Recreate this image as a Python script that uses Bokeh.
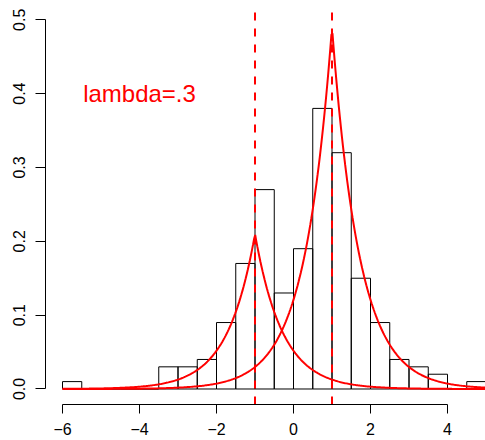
import numpy as np
from bokeh.plotting import figure
from bokeh.models import Range1d, FixedTicker, ColumnDataSource
from bokeh.core.properties import value
from bokeh.embed import file_html
from bokeh.resources import INLINE

# ---- data ----
bin_left = [-6.0, -5.5, -5.0, -4.5, -4.0, -3.5, -3.0, -2.5, -2.0, -1.5, -1.0,
            -0.5, 0.0, 0.5, 1.0, 1.5, 2.0, 2.5, 3.0, 3.5, 4.0, 4.5]
bin_right = [-5.5, -5.0, -4.5, -4.0, -3.5, -3.0, -2.5, -2.0, -1.5, -1.0, -0.5,
             0.0, 0.5, 1.0, 1.5, 2.0, 2.5, 3.0, 3.5, 4.0, 4.5, 5.0]
density = [0.01, 0.0, 0.0, 0.0, 0.0, 0.03, 0.03, 0.04, 0.09, 0.17, 0.27,
           0.13, 0.19, 0.38, 0.32, 0.15, 0.09, 0.04, 0.03, 0.02, 0.0, 0.01]

# Laplace mixture components (weight, centre, rate)
comp_weight = [0.3, 0.7]
comp_center = [-1.0, 1.0]
comp_rate = [1.4, 1.4]
curve_from, curve_to = -6.0, 5.0

x_ticks = [-6, -4, -2, 0, 2, 4]
x_tick_labels = ["\u22126", "\u22124", "\u22122", "0", "2", "4"]
y_ticks = [0.0, 0.1, 0.2, 0.3, 0.4, 0.5]
y_tick_labels = ["0.0", "0.1", "0.2", "0.3", "0.4", "0.5"]

label_text = "lambda=.3"
label_x, label_y = -4.0, 0.4

FONT = "Liberation Sans"

X0, X1 = -6.4416, 4.987
Y0, Y1 = -0.0210, 0.5207

p = figure(width=485, height=440, output_backend="svg", toolbar_location=None,
           x_range=Range1d(X0, X1), y_range=Range1d(Y0, Y1),
           min_border_left=45, min_border_right=0, min_border_top=4,
           min_border_bottom=36)
p.outline_line_color = None
p.grid.visible = False
p.background_fill_color = "white"
p.border_fill_color = "white"

# histogram
src = ColumnDataSource(dict(left=bin_left, right=bin_right, top=density,
                            bottom=[0.0] * len(density)))
p.quad(left="left", right="right", top="top", bottom="bottom", source=src,
       fill_color=None, line_color="black", line_width=1)

# density curves
xs = np.linspace(curve_from, curve_to, 401)
for w, c, r in zip(comp_weight, comp_center, comp_rate):
    ys = w * r / 2.0 * np.exp(-r * np.abs(xs - c))
    p.line(xs, ys, line_color="red", line_width=2)

# vertical dashed lines at centres (drawn bottom to top across the plot region)
p.segment(x0=comp_center, y0=[Y0] * len(comp_center),
          x1=comp_center, y1=[Y1] * len(comp_center),
          line_color="red", line_width=2, line_dash="8 8")

# label
p.text(x=[label_x], y=[label_y], text=[label_text], text_color="red",
       text_font=value(FONT), text_font_size="24px", text_align="center",
       text_baseline="middle")

# axes
xa = p.xaxis[0]
xa.ticker = FixedTicker(ticks=x_ticks)
xa.major_label_overrides = {t: l for t, l in zip(x_ticks, x_tick_labels)}
xa.bounds = (x_ticks[0], x_ticks[-1])
ya = p.yaxis[0]
ya.ticker = FixedTicker(ticks=y_ticks)
ya.major_label_overrides = {t: l for t, l in zip(y_ticks, y_tick_labels)}
ya.bounds = (y_ticks[0], y_ticks[-1])
ya.major_label_orientation = "vertical"
for ax in (xa, ya):
    ax.minor_tick_line_color = None
    ax.major_tick_out = 9
    ax.major_tick_in = 0
    ax.axis_line_color = "black"
    ax.major_tick_line_color = "black"
    ax.axis_line_width = 1
    ax.major_label_text_font = FONT
    ax.major_label_text_font_size = "16px"
    ax.major_label_text_color = "black"
xa.major_label_standoff = 9
ya.major_label_standoff = 10
ya.major_tick_out = 10

open("out.html", "w").write(file_html(p, INLINE))
